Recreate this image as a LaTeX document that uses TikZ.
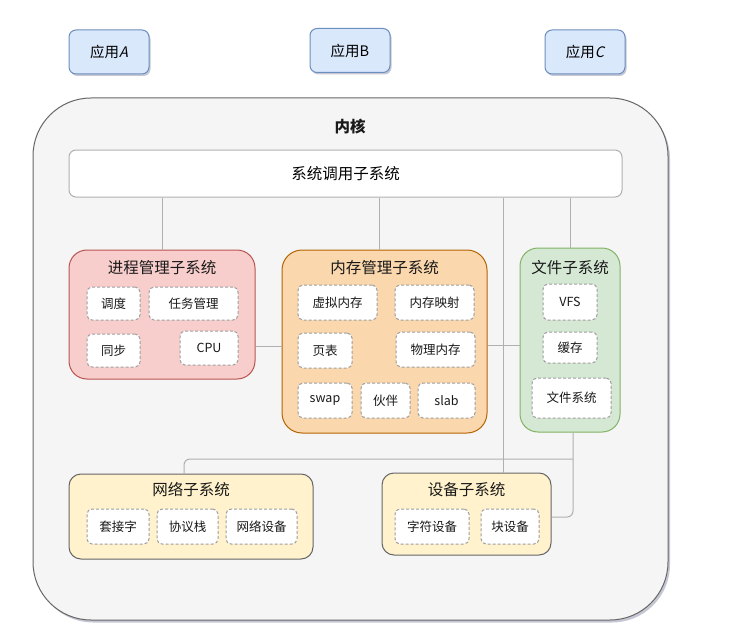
\documentclass[tikz,border=0pt]{standalone}
\usepackage{fontspec}
\setmainfont{Noto Sans CJK SC}
\newfontfamily\slantfont[FakeSlant=0.22]{Noto Sans CJK SC}
\usetikzlibrary{shadows}
\definecolor{appfill}{HTML}{DAE8FC}
\definecolor{appdraw}{HTML}{6C8EBF}
\definecolor{kfill}{HTML}{F5F5F5}
\definecolor{kdraw}{HTML}{666666}
\definecolor{pfill}{HTML}{F8CECC}
\definecolor{pdraw}{HTML}{B85450}
\definecolor{mfill}{HTML}{FAD7AC}
\definecolor{mdraw}{HTML}{B46504}
\definecolor{ffill}{HTML}{D5E8D4}
\definecolor{fdraw}{HTML}{82B366}
\definecolor{yfill}{HTML}{FFF2CC}
\definecolor{conn}{HTML}{B0B0B0}
\definecolor{dashc}{HTML}{9E9E9E}
\definecolor{shadowc}{HTML}{9FA3B8}
\begin{document}
\begin{tikzpicture}[x=1pt,y=-1pt,
  box/.style={rectangle, line width=1pt, inner sep=0pt},
  appbox/.style={box, fill=appfill, draw=appdraw, rounded corners=7pt,
     minimum width=80pt, minimum height=44pt, font=\fontsize{14.5}{16}\selectfont,
     drop shadow={shadow xshift=1.5pt, shadow yshift=-2pt, fill=shadowc, opacity=0.6}},
  subbox/.style={box, rounded corners=18pt},
  title/.style={font=\fontsize{15.5}{18}\selectfont, text=black!90, inner sep=0pt},
  item/.style={box, fill=white, draw=dashc, dashed, dash pattern=on 3pt off 2pt,
     rounded corners=5pt, font=\fontsize{12.5}{14}\selectfont, text=black!90},
  link/.style={draw=conn, line width=1pt}
]
\useasboundingbox (0,0) rectangle (737,642);

% applications
\node[appbox] (appA) at (109,52) {应用{\slantfont A}};
\node[appbox] (appB) at (350,50.5) {应用B};
\node[appbox] (appC) at (585,52) {应用{\slantfont C}};

% kernel
\node[box, fill=kfill, draw=kdraw, rounded corners=58pt,
      minimum width=635pt, minimum height=522pt,
      drop shadow={shadow xshift=2pt, shadow yshift=-2.5pt, fill=shadowc, opacity=0.6}]
      (kernel) at (350.5,359) {};
\node[title, font=\bfseries\fontsize{15.5}{18}\selectfont] (ktitle) at (350,127) {内核};

% syscall
\node[box, fill=white, draw=conn, rounded corners=7pt,
      minimum width=553pt, minimum height=47pt, font=\fontsize{15.5}{18}\selectfont]
      (sys) at (345.5,173.5) {系统调用子系统};

% process management
\node[subbox, fill=pfill, draw=pdraw, minimum width=186pt, minimum height=129pt] (proc) at (162,314.5) {};
\node[title] (proct) at (162,268) {进程管理子系统};
\node[item, minimum width=53pt, minimum height=33pt] (sched) at (113.5,303.5) {调度};
\node[item, minimum width=89pt, minimum height=33pt] (task) at (193.5,303.5) {任务管理};
\node[item, minimum width=53pt, minimum height=33pt] (sync) at (113.5,350.5) {同步};
\node[item, minimum width=58pt, minimum height=34pt] (cpu) at (209,348) {CPU};

% memory management
\node[subbox, fill=mfill, draw=mdraw, rounded corners=20pt, minimum width=205pt, minimum height=183pt] (mem) at (384.5,341.5) {};
\node[title] (memt) at (384.5,268) {内存管理子系统};
\node[item, minimum width=79pt, minimum height=35pt] (vmem) at (337.5,302.5) {虚拟内存};
\node[item, minimum width=79pt, minimum height=35pt] (mmap) at (434.5,302.5) {内存映射};
\node[item, minimum width=54pt, minimum height=35pt] (ptab) at (325,350.5) {页表};
\node[item, minimum width=79pt, minimum height=35pt] (pmem) at (435.5,349.5) {物理内存};
\node[item, minimum width=54pt, minimum height=35pt] (swap) at (325,400.5) {swap};
\node[item, minimum width=49pt, minimum height=35pt] (buddy) at (385.5,400.5) {伙伴};
\node[item, minimum width=57pt, minimum height=35pt] (slab) at (446.5,400.5) {slab};

% file subsystem
\node[subbox, fill=ffill, draw=fdraw, minimum width=100pt, minimum height=184pt] (file) at (570,340) {};
\node[title] (filet) at (570,268) {文件子系统};
\node[item, minimum width=54pt, minimum height=36pt] (vfs) at (570,302) {VFS};
\node[item, minimum width=54pt, minimum height=31pt] (cache) at (570,347.5) {缓存};
\node[item, minimum width=79pt, minimum height=40pt] (fs) at (571.5,398) {文件系统};

% network subsystem
\node[box, fill=yfill, draw=kdraw, rounded corners=12pt, minimum width=244pt, minimum height=85pt] (net) at (191,516.5) {};
\node[title] (nett) at (191,490) {网络子系统};
\node[item, minimum width=62pt, minimum height=35pt] (sock) at (118,526.5) {套接字};
\node[item, minimum width=61pt, minimum height=35pt] (proto) at (187.5,526.5) {协议栈};
\node[item, minimum width=71pt, minimum height=35pt] (ndev) at (261.5,526.5) {网络设备};

% device subsystem
\node[box, fill=yfill, draw=kdraw, rounded corners=12pt, minimum width=169pt, minimum height=82pt] (dev) at (466.5,514) {};
\node[title] (devt) at (466.5,490) {设备子系统};
\node[item, minimum width=74pt, minimum height=35pt] (cdev) at (432,526.5) {字符设备};
\node[item, minimum width=58pt, minimum height=35pt] (bdev) at (510,526.5) {块设备};

% connectors
\coordinate (j) at (573,459);
\draw[link] (proc.north) -- (proc.north |- sys.south);
\draw[link] (sys.south -| 379,0) -- (mem.north -| 379,0);
\draw[link] (file.north) -- (file.north |- sys.south);
\draw[link] (sys.south -| 503,0) -- (dev.north -| 503,0);
\draw[link] (proc.east |- 0,346) -- (mem.west |- 0,346);
\draw[link] (mem.east |- 0,345) -- (file.west |- 0,345);
\draw[link, rounded corners=6pt] (file.south -| 573,0) |- (dev.east |- 0,517);
\draw[link, rounded corners=6pt] (net.north -| 184,0) |- (j);
\end{tikzpicture}
\end{document}
